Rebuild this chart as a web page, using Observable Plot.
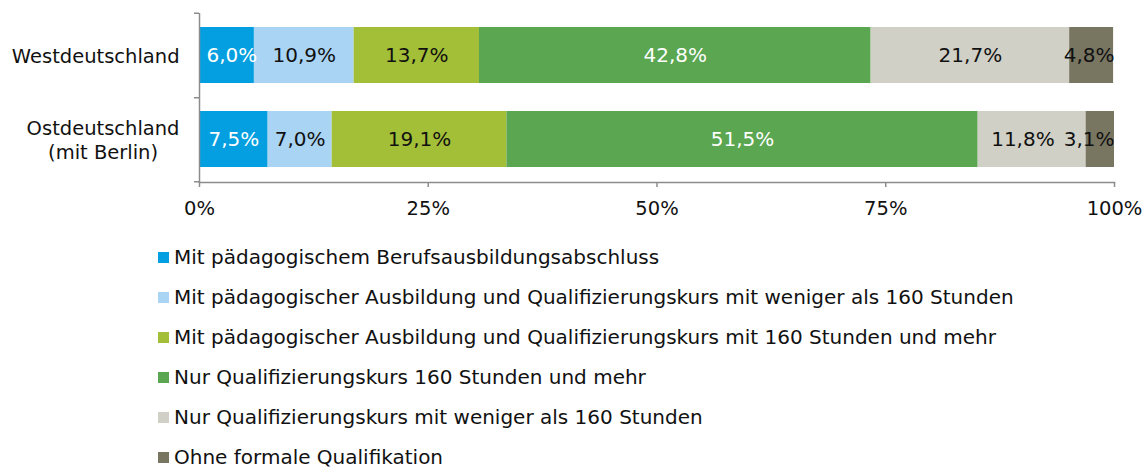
<!DOCTYPE html>
<html><head><meta charset="utf-8">
<script src="https://cdn.jsdelivr.net/npm/d3@7"></script>
<script src="https://cdn.jsdelivr.net/npm/@observablehq/plot@0.6"></script>
<style>
body{margin:0;background:#fff;font-family:"DejaVu Sans",Verdana,sans-serif;}
#legend{margin-top:7px}
.row{height:40px;display:flex;align-items:center;font-size:20px;color:#111;padding-left:158px}
.sw{width:11px;height:11px;margin-right:5px;flex:none}
</style></head><body><div id="chart"></div><div id="legend"></div>
<script>
const regions = ["Westdeutschland", "Ostdeutschland\n(mit Berlin)"];
const categories = [
  "Mit pädagogischem Berufsausbildungsabschluss",
  "Mit pädagogischer Ausbildung und Qualifizierungskurs mit weniger als 160 Stunden",
  "Mit pädagogischer Ausbildung und Qualifizierungskurs mit 160 Stunden und mehr",
  "Nur Qualifizierungskurs 160 Stunden und mehr",
  "Nur Qualifizierungskurs mit weniger als 160 Stunden",
  "Ohne formale Qualifikation"
];
const westValues = [6.0, 10.9, 13.7, 42.8, 21.7, 4.8];
const eastValues = [7.5, 7.0, 19.1, 51.5, 11.8, 3.1];
const colors = ["#049fe0", "#a9d4f4", "#a3be37", "#5aa651", "#d0d0c6", "#787561"];
const labelColors = ["#ffffff", "#111111", "#111111", "#ffffff", "#111111", "#111111"];
const xTicks = [0, 25, 50, 75, 100];

const FS = 19.5, LFS = 20;
const W = 1145, H = 230, ML = 199, MR = 31, MT = 13, MB = H - 182;
const pxPerUnit = (W - ML - MR) / 100;
const ctx = document.createElement("canvas").getContext("2d");
const fmt = v => v.toFixed(1).replace(".", ",") + "%";

const data = [];
[westValues, eastValues].forEach((vals, r) => {
  let acc = 0;
  const rows = vals.map((v, i) => {
    const d = {region: regions[r], category: categories[i], value: v, x1: acc, x2: acc + v, idx: i};
    acc += v;
    return d;
  });
  // labels centred in their segment, nudged to stay inside the plot and not collide
  ctx.font = `${LFS}px "DejaVu Sans"`;
  let bound = 100;
  for (let i = rows.length - 1; i >= 0; i--) {
    const d = rows[i];
    const w = ctx.measureText(fmt(d.value)).width / pxPerUnit;
    const mid = (d.x1 + d.x2) / 2;
    d.lx = Math.max(Math.min(mid, bound - w / 2), 7 / pxPerUnit + w / 2);
    bound = d.lx - w / 2 - 9 / pxPerUnit;
  }
  data.push(...rows);
});

// y-axis category labels: block right-aligned, lines centred within the block
ctx.font = `${FS}px "DejaVu Sans"`;
const regionLabels = regions.map(r => ({
  region: r,
  half: d3.max(r.split("\n"), l => ctx.measureText(l).width) / 2
}));

const paddingInner = 0.331, paddingOuter = 0.1655;
const step = (H - MT - MB) / (regions.length - paddingInner + 2 * paddingOuter);
const axisColor = "#8c8c8c";

const chart = Plot.plot({
  width: W, height: H,
  marginLeft: ML, marginRight: MR, marginTop: MT, marginBottom: MB,
  style: {fontFamily: '"DejaVu Sans", Verdana, sans-serif', fontSize: FS + "px", color: "#111", background: "#fff"},
  x: {domain: [0, 100]},
  y: {domain: regions, paddingInner, paddingOuter, axis: null},
  color: {domain: categories, range: colors},
  marks: [
    Plot.barX(data, {y: "region", x1: "x1", x2: "x2", fill: "category"}),
    Plot.text(data, {y: "region", x: "lx", text: d => fmt(d.value), fill: d => labelColors[d.idx], fontSize: LFS}),
    Plot.ruleX([0], {stroke: axisColor, strokeWidth: 1.5}),
    Plot.frame({anchor: "bottom", stroke: axisColor, strokeWidth: 1.5}),
    Plot.ruleY([regions[0]], {x1: -5 / pxPerUnit, x2: 0, dy: -step / 2, stroke: axisColor, strokeWidth: 1.5, clip: false}),
    Plot.ruleY(regions, {x1: -5 / pxPerUnit, x2: 0, dy: step / 2, stroke: axisColor, strokeWidth: 1.5, clip: false}),
    Plot.axisX(xTicks, {tickSize: 5, tickPadding: 14, tickFormat: d => d + "%", stroke: axisColor, strokeWidth: 1.5, fill: "#111", fontSize: FS, label: null}),
    ...regionLabels.map(r => Plot.text([r], {
      y: "region", x: 0, text: "region", textAnchor: "middle", lineAnchor: "middle", lineHeight: 1.25,
      dx: -(20 + r.half), fill: "#111", fontSize: FS, clip: false
    }))
  ]
});
document.getElementById("chart").appendChild(chart);

const legend = document.getElementById("legend");
categories.forEach((c, i) => {
  const row = document.createElement("div");
  row.className = "row";
  const sw = document.createElement("span");
  sw.className = "sw";
  sw.style.background = colors[i];
  const t = document.createElement("span");
  t.textContent = c;
  row.appendChild(sw);
  row.appendChild(t);
  legend.appendChild(row);
});
</script></body></html>
